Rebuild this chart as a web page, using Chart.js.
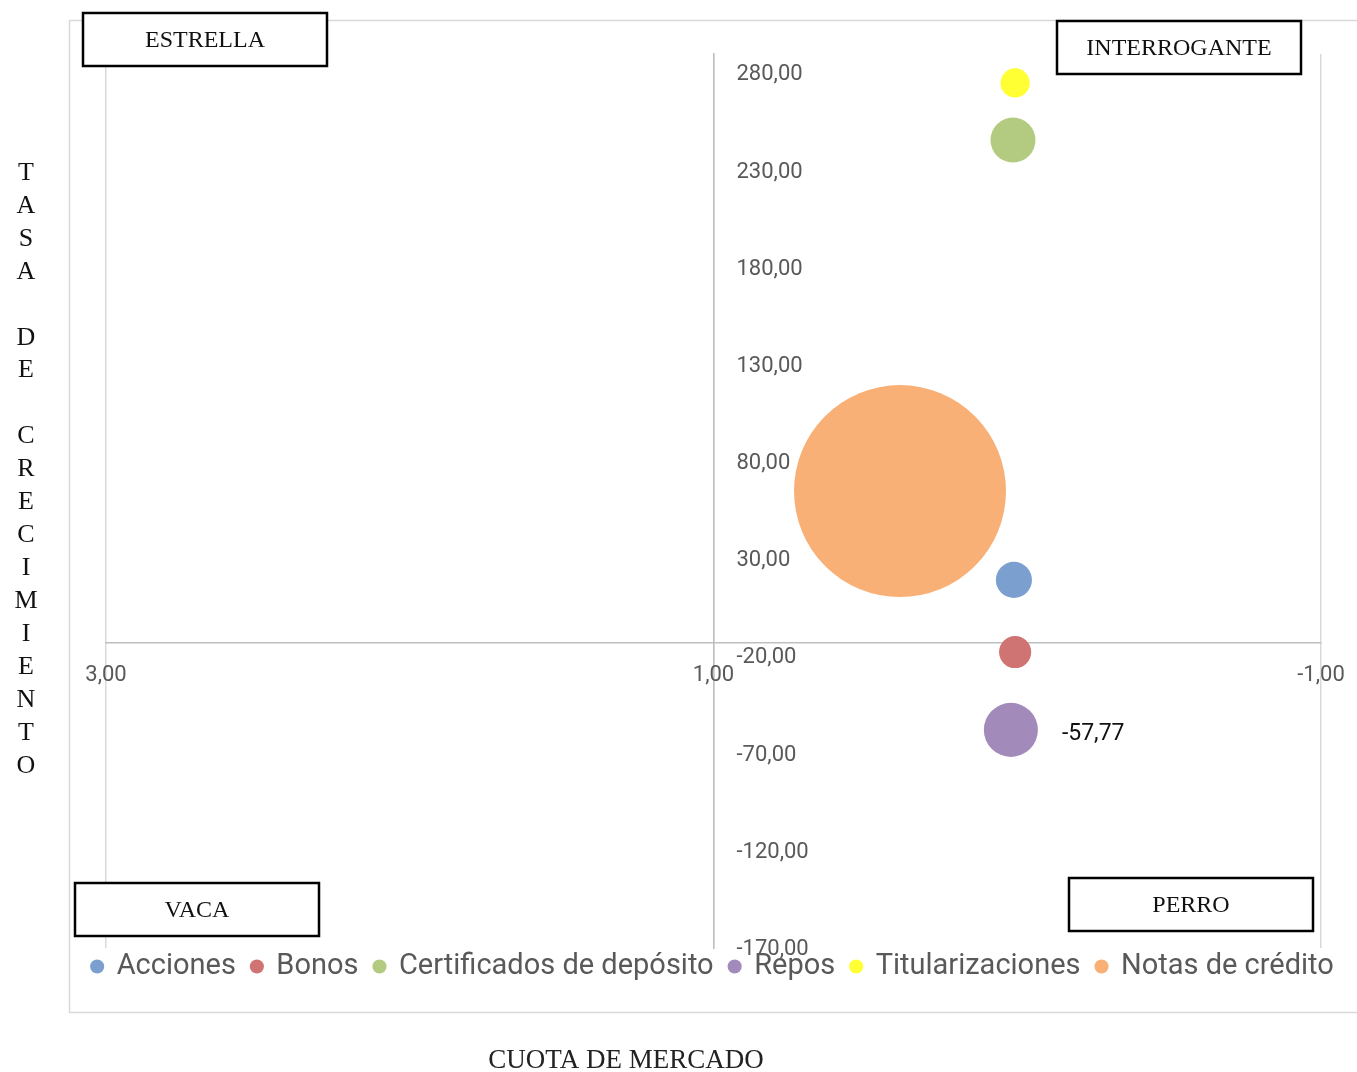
<!DOCTYPE html>
<html lang="es">
<head>
<meta charset="utf-8">
<title>Matriz BCG</title>
<script src="https://cdn.jsdelivr.net/npm/chart.js@4.4.1/dist/chart.umd.min.js"></script>
<style>
  html, body { margin: 0; padding: 0; background: #fff; }
</style>
</head>
<body>
<canvas id="grafico" width="1357" height="1072"></canvas>
<script>
// Datos de la matriz
const productos = ['Acciones', 'Bonos', 'Certificados de depósito', 'Repos', 'Titularizaciones', 'Notas de crédito'];
const cuotaMercado = [0.011, 0.007, 0.014, 0.021, 0.007, 0.386];
const tasaCrecimiento = [19.4, -17.7, 245.7, -57.77, 275.1, 65.1];
const tamano = [2.9, 2.3, 4.5, 6.5, 1.9, 100];
const ticksX = [3, 1, -1];
const ticksY = [280, 230, 180, 130, 80, 30, -20, -70, -120, -170];
const cuadrantes = ['ESTRELLA', 'INTERROGANTE', 'VACA', 'PERRO'];
const tituloX = 'CUOTA DE MERCADO';
const tituloY = 'TASA DE CRECIMIENTO';

const colores = ['#7ba0cf', '#cf7472', '#b3cb81', '#a28bbb', '#ffff33', '#f8b076'];
const radioMax = 106;
const cruceY = -12.9;   // donde cruza el eje horizontal
const cruceX = 1;       // donde cruza el eje vertical

// cajas de texto de los cuadrantes (en píxeles de la página)
const cajas = [
    { x: 83, y: 13, w: 244, h: 53 },
    { x: 1057, y: 21, w: 244, h: 53 },
    { x: 75, y: 883, w: 244, h: 53 },
    { x: 1069, y: 878, w: 244, h: 53 }
];

function formato(v) {
    return v.toFixed(2).replace('.', ',');
}

const maxTamano = Math.max(...tamano);
const datasets = productos.map((nombre, i) => ({
    label: nombre,
    data: [{ x: cuotaMercado[i], y: tasaCrecimiento[i], r: radioMax * Math.sqrt(tamano[i] / maxTamano) }],
    backgroundColor: colores[i],
    borderWidth: 0,
    hoverBorderWidth: 0
}));

const fondo = {
    id: 'fondo',
    beforeDraw(chart) {
        const ctx = chart.ctx;
        ctx.save();
        ctx.fillStyle = '#fff';
        ctx.fillRect(0, 0, chart.width, chart.height);
        ctx.strokeStyle = '#d9d9d9';
        ctx.lineWidth = 1.5;
        ctx.strokeRect(69.5, 20.5, 1320, 992);
        ctx.restore();
    }
};

// La leyenda de Excel queda pegada al área del gráfico
const subirLeyenda = {
    id: 'subirLeyenda',
    afterLayout(chart) {
        chart.legend.top -= 12;
        chart.legend.bottom -= 12;
    }
};

const etiquetasEjes = {
    id: 'etiquetasEjes',
    afterDatasetsDraw(chart) {
        const { ctx, scales: { x, y } } = chart;
        const x0 = x.getPixelForValue(cruceX);
        const y0 = y.getPixelForValue(cruceY);
        ctx.save();
        ctx.font = '22px Roboto';
        ctx.fillStyle = '#595959';
        ctx.textBaseline = 'middle';
        ctx.textAlign = 'left';
        y.ticks.forEach(t => ctx.fillText(formato(t.value), x0 + 23, y.getPixelForValue(t.value) + 1.5));
        ctx.textAlign = 'center';
        x.ticks.forEach(t => ctx.fillText(formato(t.value), x.getPixelForValue(t.value), y0 + 33));

        // etiqueta de datos de Repos
        const i = productos.indexOf('Repos');
        const el = chart.getDatasetMeta(i).data[0];
        ctx.font = '23px Roboto';
        ctx.fillStyle = '#111';
        ctx.textAlign = 'left';
        ctx.fillText(formato(tasaCrecimiento[i]), el.x + el.options.radius + 24, el.y + 4);
        ctx.restore();
    }
};

const anotaciones = {
    id: 'anotaciones',
    afterDraw(chart) {
        const ctx = chart.ctx;
        ctx.save();
        ctx.font = '24px "Liberation Serif"';
        ctx.textAlign = 'center';
        ctx.textBaseline = 'middle';
        cajas.forEach((c, i) => {
            ctx.fillStyle = '#fff';
            ctx.fillRect(c.x, c.y, c.w, c.h);
            ctx.strokeStyle = '#000';
            ctx.lineWidth = 2.5;
            ctx.strokeRect(c.x, c.y, c.w, c.h);
            ctx.fillStyle = '#111';
            ctx.fillText(cuadrantes[i], c.x + c.w / 2, c.y + c.h / 2 + 1);
        });

        // títulos de los ejes
        ctx.font = '27px "Liberation Serif"';
        ctx.fillStyle = '#222';
        ctx.fillText(tituloX, 626, 1061);
        ctx.font = '26px "Liberation Serif"';
        ctx.fillStyle = '#111';
        tituloY.split('').forEach((letra, k) => {
            if (letra !== ' ') ctx.fillText(letra, 26, 173 + k * 32.94);
        });
        ctx.restore();
    }
};

// ejes vacíos que sólo reservan el margen del área de trazado
const margenVacio = (pos, ancho) => ({
    axis: 'y',
    position: pos,
    ticks: { display: false },
    grid: { display: false },
    border: { display: false },
    afterFit: s => { s.width = ancho; }
});

new Chart(document.getElementById('grafico'), {
    type: 'bubble',
    data: { datasets: datasets },
    options: {
        responsive: false,
        animation: false,
        layout: { autoPadding: false, padding: { top: 54, left: 69, right: 0, bottom: 69 } },
        scales: {
            x: {
                type: 'linear',
                reverse: true,
                min: -1,
                max: 3,
                position: { y: cruceY },
                ticks: { display: false, stepSize: 2 },
                afterBuildTicks: s => { s.ticks = ticksX.map(v => ({ value: v })); },
                grid: { color: '#d9d9d9', lineWidth: 1.5, drawTicks: false },
                border: { display: true, color: '#bfbfbf', width: 1.5 },
                afterFit: s => { s.height = 0; }
            },
            y: {
                type: 'linear',
                min: -170,
                max: 290,
                position: { x: cruceX },
                ticks: { display: false },
                afterBuildTicks: s => { s.ticks = ticksY.map(v => ({ value: v })); },
                grid: { display: false },
                border: { display: true, color: '#bfbfbf', width: 1.5 },
                afterFit: s => { s.width = 0; }
            },
            margenIzq: margenVacio('left', 37),
            margenDer: margenVacio('right', 36)
        },
        plugins: {
            legend: {
                position: 'bottom',
                labels: {
                    usePointStyle: true,
                    pointStyle: 'circle',
                    boxWidth: 10,
                    boxHeight: 10,
                    padding: 16,
                    color: '#595959',
                    font: { family: 'Roboto', size: 29 }
                }
            },
            tooltip: { enabled: false }
        }
    },
    plugins: [fondo, subirLeyenda, etiquetasEjes, anotaciones]
});
</script>
</body>
</html>
